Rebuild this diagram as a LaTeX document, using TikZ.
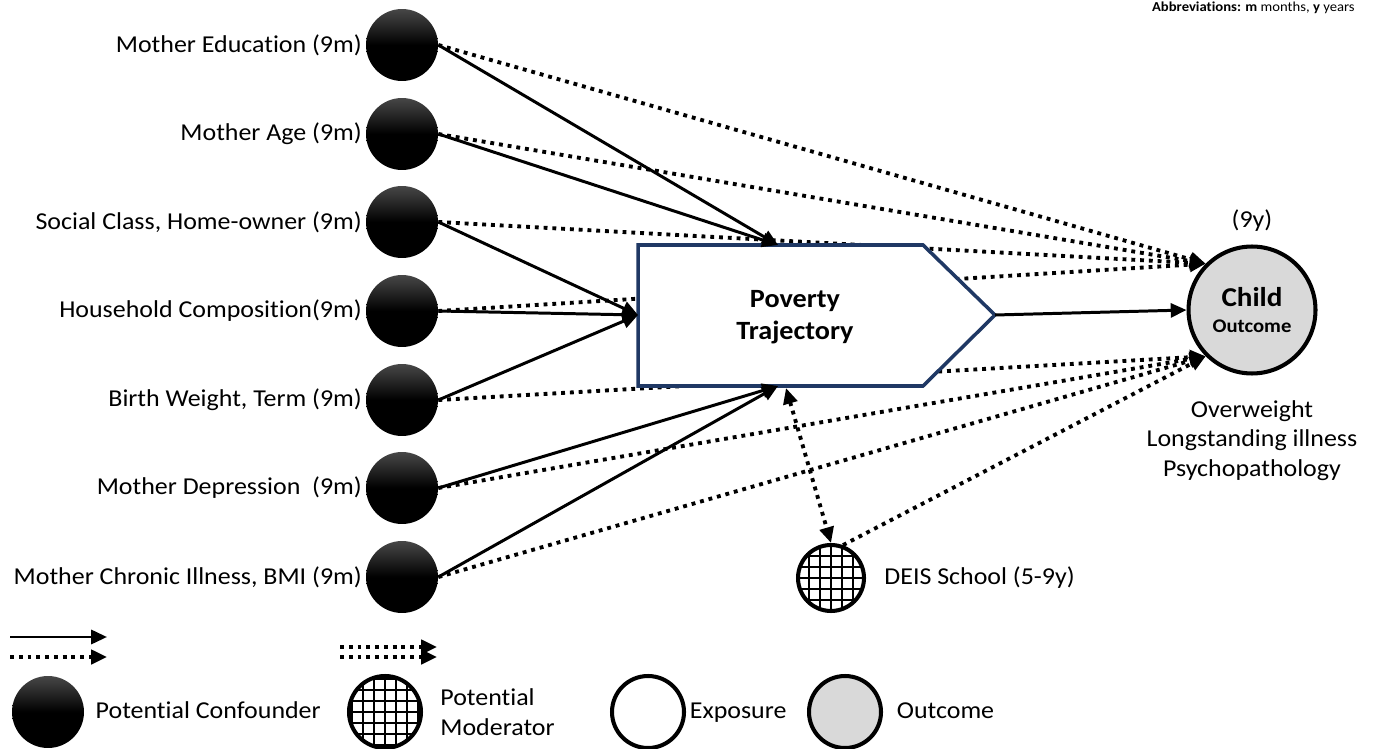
\documentclass[tikz,border=0pt]{standalone}
\usepackage{fontspec}
\setmainfont{Carlito}[FakeStretch=1.07, Ligatures=NoCommon]
\usetikzlibrary{arrows.meta, positioning, calc}

\definecolor{povblue}{RGB}{31,56,100}
\definecolor{outgray}{RGB}{217,217,217}

\tikzset{
  conf/.style={circle, minimum size=1.44cm, inner sep=0pt, top color=black!72, bottom color=black, middle color=black},
  modgrid/.style={circle, draw, line width=2.3pt, minimum size=1.32cm, inner sep=0pt, fill=white,
    path picture={\draw[line width=0.6pt, step=0.22cm] (path picture bounding box.south west) grid (path picture bounding box.north east);}},
  expo/.style={circle, draw, line width=2.3pt, minimum size=1.44cm, inner sep=0pt, fill=white},
  outc/.style={expo, fill=outgray},
  lbl/.style={font=\fontsize{13.8}{16.8}\selectfont, inner sep=2pt},
  keylbl/.style={lbl, text height=10pt, text depth=3pt},
  cause/.style={line width=1.7pt, -{Triangle[length=9pt,width=8pt]}},
  dotarrow/.style={line width=2.2pt, dash pattern=on 2.2pt off 2.8pt, -{Triangle[length=9pt,width=8pt]}},
  dotboth/.style={dotarrow, {Triangle[length=9pt,width=8pt]}-{Triangle[length=9pt,width=8pt]}}
}

\begin{document}
\begin{tikzpicture}[x=0.02cm, y=-0.02cm]
  \useasboundingbox (0,0) rectangle (1375,749);
  % Abbreviations
  \node[anchor=north east, font=\fontsize{7.8}{8}\selectfont, inner sep=0pt] (abbr) at (1355,2) {\textbf{Abbreviations: m} months, \textbf{y} years};
  % Potential confounders
  \node[conf] (edu) at (402,45) {};
  \node[lbl, left=0pt of edu] (eduL) {Mother Education (9m)};
  \node[conf] (age) at (402,134) {};
  \node[lbl, left=0pt of age] (ageL) {Mother Age (9m)};
  \node[conf] (soc) at (402,222) {};
  \node[lbl, left=0pt of soc] (socL) {Social Class, Home-owner (9m)};
  \node[conf] (hh) at (402,311) {};
  \node[lbl, left=0pt of hh] (hhL) {Household Composition(9m)};
  \node[conf] (bw) at (402,400) {};
  \node[lbl, left=0pt of bw] (bwL) {Birth Weight, Term (9m)};
  \node[conf] (dep) at (402,488) {};
  \node[lbl, left=0pt of dep] (depL) {Mother Depression~~(9m)};
  \node[conf] (chr) at (402,577) {};
  \node[lbl, left=0pt of chr] (chrL) {Mother Chronic Illness, BMI (9m)};
  % Exposure box corners
  \coordinate (pNW) at (638,245);
  \coordinate (pNE) at (923,245);
  \coordinate (pTip) at (995,315);
  \coordinate (pSE) at (923,386);
  \coordinate (pSW) at (638,386);
  \coordinate (pTop) at (778,245);
  \coordinate (pBot) at (778,386);
  \coordinate (pBot2) at (786,388);
  \coordinate (pWest) at (638,315);
  % Outcome
  \node[outc, minimum size=2.54cm, align=center] (child) at (1252,310)
    {{\fontsize{15.5}{17}\selectfont\textbf{Child}}\\[3pt]{\fontsize{11}{12}\selectfont\textbf{Outcome}}};
  \node[lbl, above=0.18cm of child] (childT) {(9y)};
  \node[lbl, below=0.42cm of child, align=center] (childO) {Overweight\\Longstanding illness\\Psychopathology};
  % Moderator
  \node[modgrid] (deis) at (831,578) {};
  \node[lbl, right=0.29cm of deis] (deisL) {DEIS School (5-9y)};
  % Dotted paths to the outcome
  \draw[dotarrow] (edu.east) -- (child.135);
  \draw[dotarrow] (age.east) -- (child.135);
  \draw[dotarrow] (soc.east) -- (child.135);
  \draw[dotarrow] (hh.east) -- (child.135);
  \draw[dotarrow] (bw.east) -- (child.225);
  \draw[dotarrow] (dep.east) -- (child.225);
  \draw[dotarrow] (chr.east) -- (child.225);
  \draw[dotarrow] (deis.70) -- (child.225);
  % Exposure
  \draw[povblue, line width=2pt, fill=white] (pNW) -- (pNE) -- (pTip) -- (pSE) -- (pSW) -- cycle;
  \node[font=\fontsize{15}{18}\selectfont\bfseries, align=center] (pov) at (795,317) {Poverty\\Trajectory};
  % Solid paths to the exposure
  \draw[cause] (edu.east) -- (pTop);
  \draw[cause] (age.east) -- (pTop);
  \draw[cause] (soc.east) -- (pWest);
  \draw[cause] (hh.east) -- (pWest);
  \draw[cause] (bw.east) -- (pWest);
  \draw[cause] (dep.east) -- (pBot);
  \draw[cause] (chr.east) -- (pBot);
  \draw[cause] (pTip) -- (child.west);
  \draw[dotboth] (pBot2) -- (deis.north);
  % Legend
  \coordinate (lgA1) at (10,637);
  \coordinate (lgA2) at (107,637);
  \coordinate (lgB1) at (10,657);
  \coordinate (lgB2) at (107,657);
  \coordinate (lgC1) at (340,647);
  \coordinate (lgC2) at (437,647);
  \coordinate (lgD1) at (340,657);
  \coordinate (lgD2) at (437,657);
  \draw[cause] (lgA1) -- (lgA2);
  \draw[dotarrow] (lgB1) -- (lgB2);
  \draw[dotarrow] (lgC1) -- (lgC2);
  \draw[dotarrow] (lgD1) -- (lgD2);
  \node[conf] (kConf) at (48,712) {};
  \node[keylbl, right=0.15cm of kConf] (kConfL) {Potential Confounder};
  \node[modgrid, minimum size=1.44cm] (kMod) at (385,712) {};
  \node[lbl, right=0.27cm of kMod, align=left] (kModL) {Potential\\Moderator};
  \node[expo] (kExp) at (648,712) {};
  \node[keylbl, right=0pt of kExp] (kExpL) {Exposure};
  \node[outc] (kOut) at (845,712) {};
  \node[keylbl, right=0.2cm of kOut] (kOutL) {Outcome};
\end{tikzpicture}
\end{document}
